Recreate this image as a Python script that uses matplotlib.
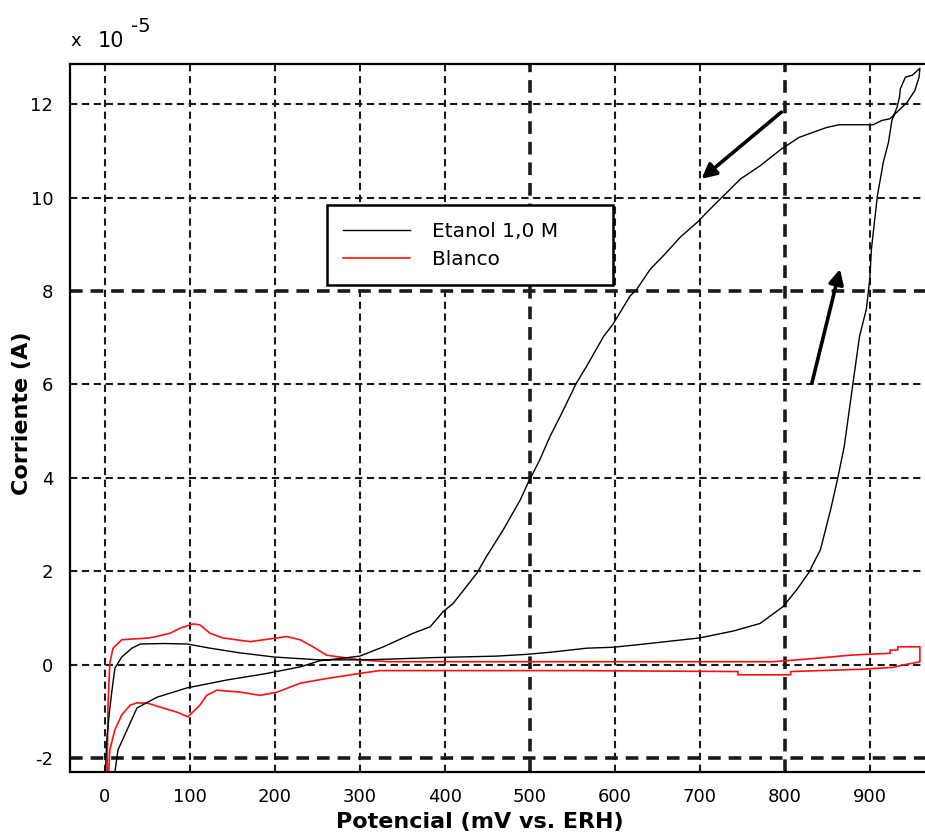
import numpy as np
import matplotlib.pyplot as plt

plt.rcParams['font.family'] = ['DejaVu Sans']
plt.rcParams['axes.unicode_minus'] = False

# Voltametria ciclica: potencial en mV vs. ERH, corriente en unidades de 1e-5 A
etanol_mv = [0, 2.6, 5.4, 8.6, 12, 20, 32, 42, 70, 97, 124, 159, 200, 253, 300,
             324, 390, 461, 498, 528, 567, 598, 630, 700, 740, 771, 798, 814,
             828, 842, 854, 862, 870, 876, 882, 888, 896, 900, 902, 909, 916,
             922, 926, 932, 935, 936, 942, 950, 959,
             958, 953, 944, 932, 924, 914, 904, 864, 849, 817, 796, 771, 748,
             732, 712, 697, 677, 657, 642, 626, 618, 598, 587, 567, 555, 536,
             524, 512, 498, 489, 469, 449, 438, 410, 398, 383, 363, 328, 300,
             277, 253,
             230, 191, 144, 97, 61.5, 38, 15.6, 9.8]
etanol_i = [-2.6, -1.6, -1.04, -0.55, -0.08, 0.16, 0.35, 0.44, 0.45, 0.44, 0.35,
            0.25, 0.16, 0.1, 0.1,
            0.11, 0.15, 0.18, 0.22, 0.27, 0.35, 0.37, 0.43, 0.57, 0.72, 0.88,
            1.24, 1.6, 1.96, 2.46, 3.32, 3.96, 4.67, 5.46, 6.25, 7.03, 7.61,
            8.25, 8.9, 10.04, 10.76, 11.18, 11.65, 11.93, 12.15, 12.33, 12.58,
            12.62, 12.77,
            12.58, 12.29, 12.04, 11.83, 11.69, 11.65, 11.56, 11.56, 11.5, 11.29,
            11.04, 10.68, 10.4, 10.11, 9.75, 9.47, 9.15, 8.75, 8.47, 8.04, 7.89,
            7.29, 7.03, 6.39, 6.03, 5.32, 4.89, 4.39, 3.89, 3.53, 2.89, 2.31,
            1.96, 1.31, 1.13, 0.81, 0.67, 0.38, 0.18, 0.13, 0.08,
            -0.05, -0.19, -0.33, -0.5, -0.7, -0.93, -1.83, -2.6]

blanco_mv = [2.6, 4, 6, 9.8, 20, 53, 77, 89, 104, 112, 124, 139, 171, 191, 214,
             230, 245, 261, 285, 300, 335, 500, 700, 786, 835, 877, 898, 924,
             924, 933, 933, 959, 959, 951, 939, 928, 892, 807, 807, 745, 745,
             553, 324, 300, 261, 230, 203, 183, 159, 132, 120, 112, 98, 85, 65,
             51, 38, 30, 20, 12, 6, 4]
blanco_i = [-2.6, -0.83, 0.03, 0.35, 0.53, 0.57, 0.67, 0.78, 0.87, 0.85, 0.67,
            0.57, 0.49, 0.54, 0.6, 0.53, 0.38, 0.2, 0.14, 0.1, 0.06, 0.06, 0.06,
            0.06, 0.13, 0.2, 0.22, 0.24, 0.31, 0.31, 0.38, 0.38, 0.06, 0.03,
            -0.01, -0.06, -0.1, -0.15, -0.22, -0.22, -0.15, -0.13, -0.13, -0.19,
            -0.3, -0.4, -0.59, -0.66, -0.59, -0.55, -0.66, -0.87, -1.12, -1.02,
            -0.91, -0.83, -0.82, -0.87, -1.08, -1.4, -1.83, -2.6]

x_ticks = [0, 100, 200, 300, 400, 500, 600, 700, 800, 900]
y_ticks = [-2, 0, 2, 4, 6, 8, 10, 12]
heavy_x = [500, 800]
heavy_y = [-2, 8]

# flechas del sentido de barrido: (cola, punta)
arrow_back = ((796, 11.83), (702, 10.4))
arrow_fwd = ((832, 6.03), (865, 8.47))

fig = plt.figure(figsize=(9.25, 8.35), dpi=100)
ax = fig.add_axes([70 / 925, 1 - 771.7 / 835, 855 / 925, 707.2 / 835])

for xv in x_ticks:
    ax.axvline(xv, color='#1a1a1a', ls=(0, (3.5, 2.2)),
               lw=2.6 if xv in heavy_x else 1.5, zorder=1)
for yv in y_ticks:
    ax.axhline(yv, color='#1a1a1a', ls=(0, (3.5, 2.2)),
               lw=2.6 if yv in heavy_y else 1.5, zorder=1)

ax.plot(etanol_mv, etanol_i, color='black', lw=1.0, label='Etanol 1,0 M', zorder=3)
ax.plot(blanco_mv, blanco_i, color='#ff1010', lw=1.2, label='Blanco', zorder=2)

for (tail, head) in (arrow_back, arrow_fwd):
    ax.annotate('', xy=head, xytext=tail,
                arrowprops=dict(arrowstyle='-|>', lw=2.6, color='black',
                                mutation_scale=22, shrinkA=0, shrinkB=0))

ax.set_xlim(-40.8, 965)
ax.set_ylim(-2.295, 12.85)
ax.set_xticks(x_ticks)
ax.set_yticks(y_ticks)
ax.tick_params(direction='in', length=0, labelsize=13, pad=12)
ax.spines['right'].set_visible(False)
for s in ('left', 'top', 'bottom'):
    ax.spines[s].set_linewidth(1.6)

leg = ax.legend(loc='upper left', bbox_to_anchor=(0.3006, 0.689, 0.3345, 0.1117),
                mode='expand', fontsize=14.5, fancybox=False, framealpha=1,
                edgecolor='black', handlelength=3.3, handletextpad=1.1,
                labelspacing=0.45, borderpad=0.8, borderaxespad=0)
leg.get_frame().set_linewidth(1.8)

fig.text(22 / 925, 1 - 413 / 835, 'Corriente (A)', rotation=90, ha='center',
         va='center', fontsize=16, fontweight='bold')
fig.text(480 / 925, 1 - 822 / 835, 'Potencial (mV vs. ERH)', ha='center',
         va='center', fontsize=16, fontweight='bold')

# factor de escala del eje y
fig.text(70 / 925, 1 - 46 / 835, 'x', fontsize=13, va='baseline')
fig.text(98 / 925, 1 - 47 / 835, '10', fontsize=15, va='baseline')
fig.text(131 / 925, 1 - 32 / 835, '-5', fontsize=14, va='baseline')

fig.savefig('out.png', dpi=100)
